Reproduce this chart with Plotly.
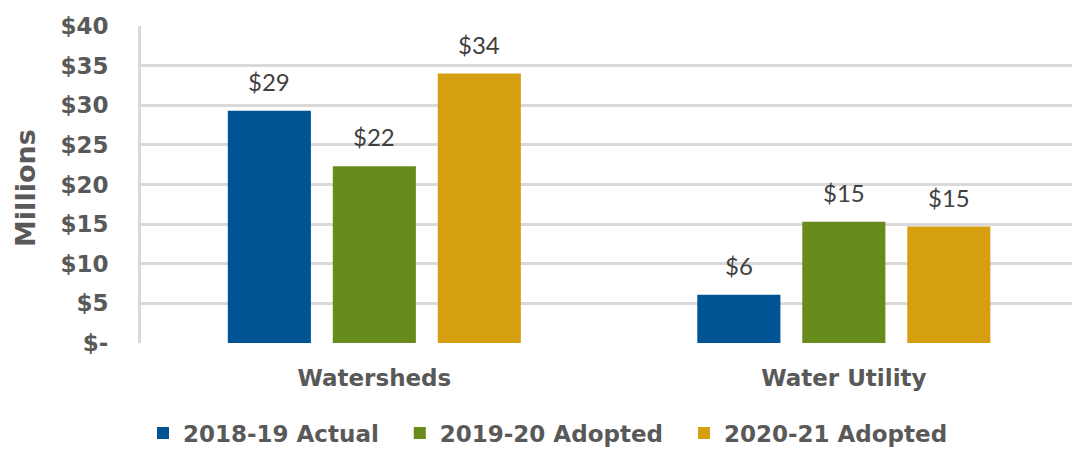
import plotly.graph_objects as go
import numpy as np

categories = ["Watersheds", "Water Utility"]
series_names = ["2018-19 Actual", "2019-20 Adopted", "2020-21 Adopted"]
actual_2018_19 = [29.3, 6.1]
adopted_2019_20 = [22.3, 15.3]
adopted_2020_21 = [34.0, 14.7]
tick_values = [0, 5, 10, 15, 20, 25, 30, 35, 40]
tick_labels = ["$-", "$5", "$10", "$15", "$20", "$25", "$30", "$35", "$40"]

colors = ["#005493", "#678C1B", "#D69F10"]
series = [actual_2018_19, adopted_2019_20, adopted_2020_21]
offsets = [-0.2236, 0.0, 0.2236]
bar_width = 0.177

BOLD = "DejaVu Sans"
GRAY = "#595959"
PAD = "\u00a0\u00a0"
fig = go.Figure()
base = np.arange(len(categories))
annotations = []
for i, (name, vals, col, off) in enumerate(zip(series_names, series, colors, offsets)):
    xs = base + off
    fig.add_trace(go.Bar(
        x=xs, y=vals, name=name + (PAD if i < len(series_names) - 1 else ""),
        width=bar_width,
        marker=dict(color=col, line=dict(width=0)),
    ))
    for xv, yv in zip(xs, vals):
        annotations.append(dict(
            x=xv, y=yv, xref="x", yref="y", text=f"${yv:.0f}",
            showarrow=False, yanchor="bottom", yshift=13,
            font=dict(family="Lato", size=24, color="#404040"),
        ))

annotations.append(dict(
    x=(26 - 141) / 931, y=(343 - 188) / 317, xref="paper", yref="paper",
    text="<b>Millions</b>", showarrow=False, textangle=-90,
    xanchor="center", yanchor="middle",
    font=dict(family=BOLD, size=27, color=GRAY),
))

fig.update_layout(
    width=1072, height=449,
    margin=dict(l=141, r=0, t=26, b=106, autoexpand=False),
    paper_bgcolor="white", plot_bgcolor="white",
    barmode="overlay",
    showlegend=True,
    legend=dict(
        orientation="h", xref="container", yref="container",
        x=548 / 1072, xanchor="center", y=(449 - 433) / 449, yanchor="middle",
        font=dict(family=BOLD, size=23, color=GRAY, weight="bold"),
        traceorder="normal", itemwidth=30,
    ),
    annotations=annotations,
)

fig.update_xaxes(
    range=[-0.497, 1.486], tickvals=list(base), ticktext=categories,
    showgrid=False, zeroline=False, showline=False, ticks="",
    tickfont=dict(family=BOLD, size=23, color=GRAY, weight="bold"),
    ticklabelstandoff=19, automargin=False,
)
fig.update_yaxes(
    range=[0, 40], tickvals=tick_values, ticktext=tick_labels,
    showgrid=True, gridcolor="#D9D9D9", gridwidth=3,
    zeroline=False, showline=True, linecolor="#D9D9D9", linewidth=3,
    ticks="", tickfont=dict(family=BOLD, size=23, color=GRAY, weight="bold"),
    ticklabelstandoff=25, automargin=False,
)
fig.write_html(
    "out.html",
    config={"displayModeBar": False},
    post_script="document.body.style.margin='0px';document.body.style.padding='0px';",
)
